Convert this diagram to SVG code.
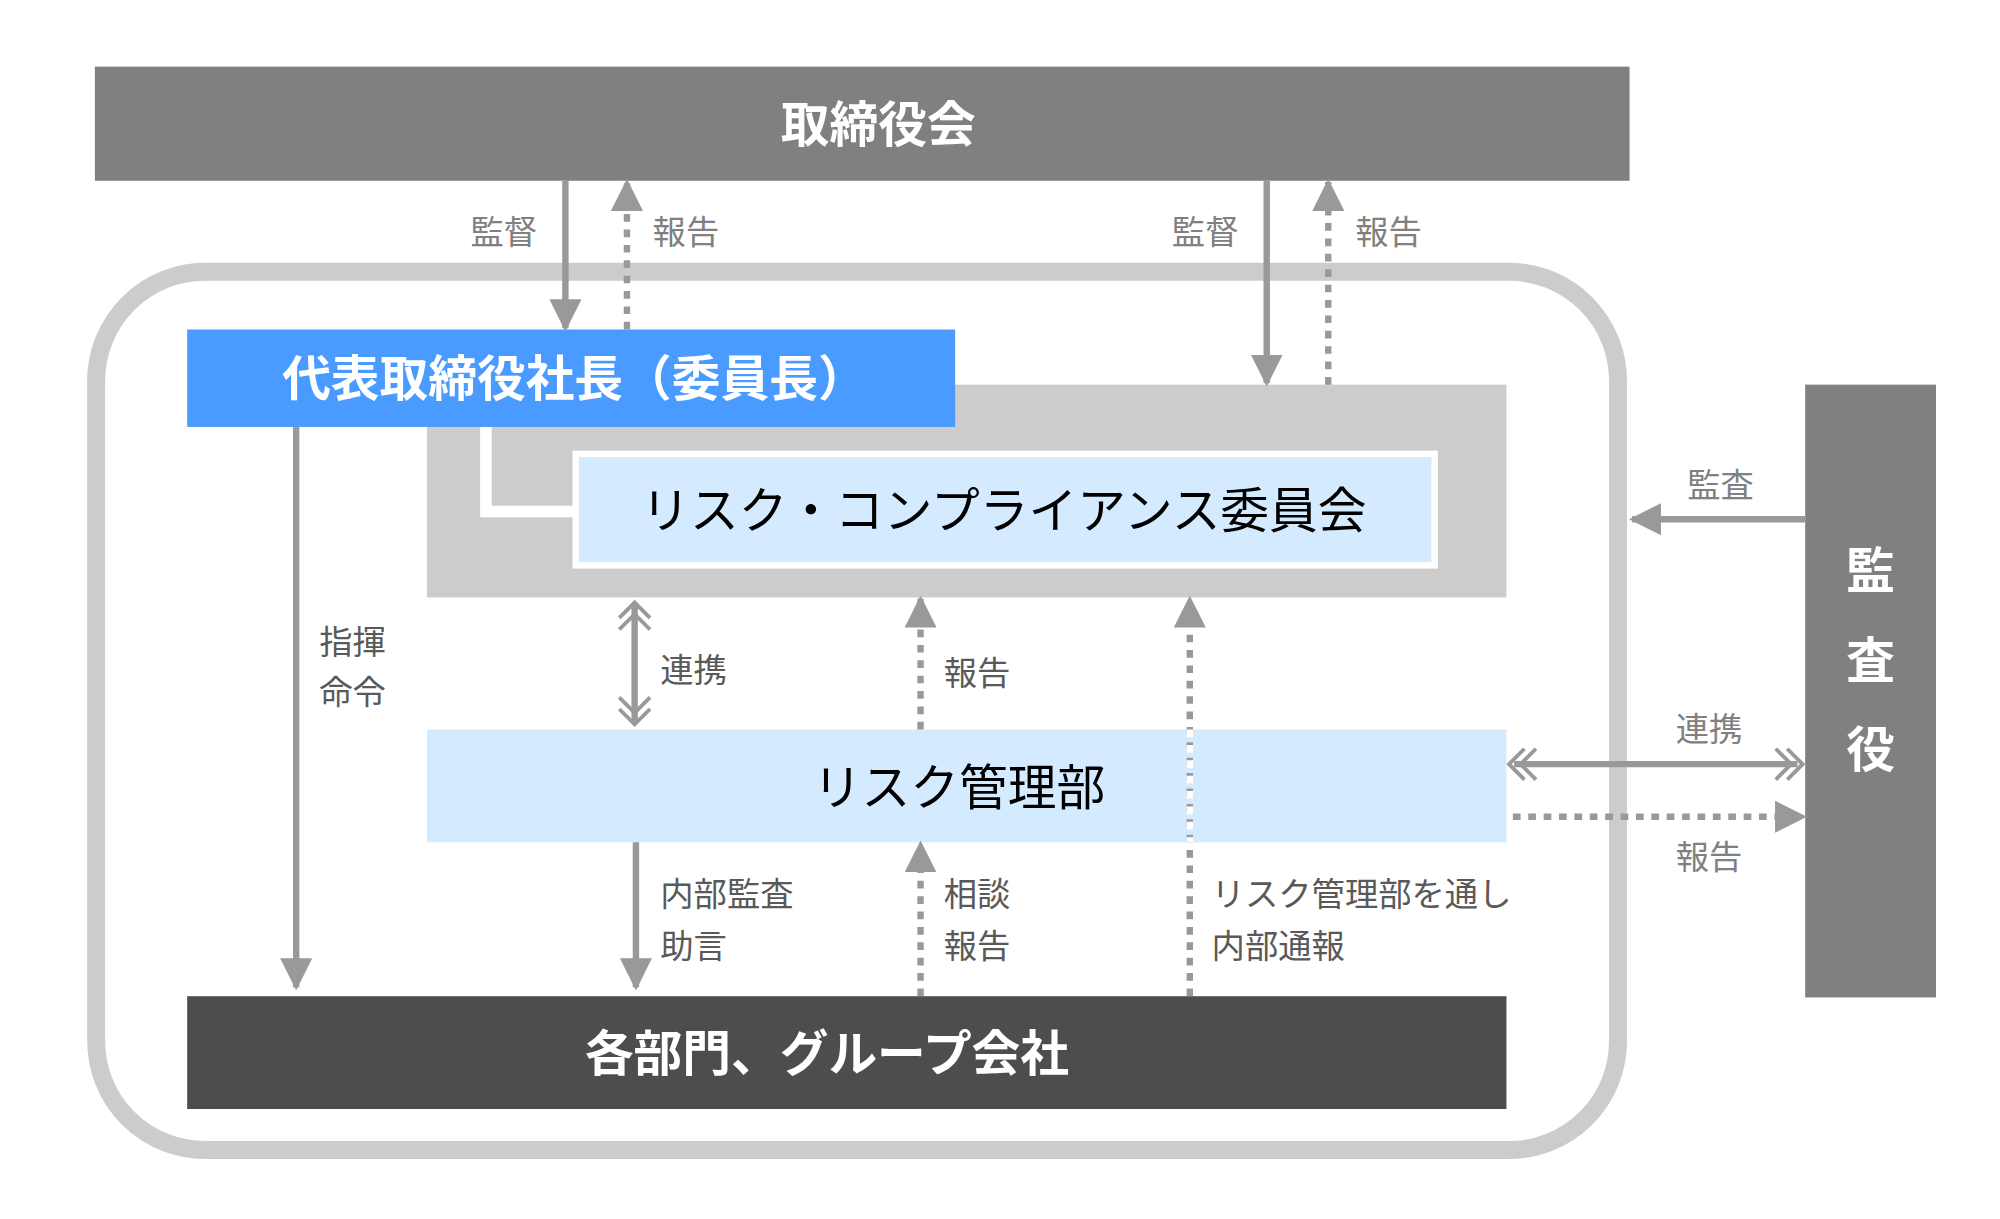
<svg xmlns="http://www.w3.org/2000/svg" width="2000" height="1219" viewBox="0 0 2000 1219">
<defs>
<style>
.lbl{font-family:"Noto Sans CJK JP","Noto Sans",sans-serif;font-size:26px;fill:#808080}
.ilbl{font-family:"Noto Sans CJK JP","Noto Sans",sans-serif;font-size:26px;fill:#595959}
.big{font-family:"Noto Sans CJK JP","Noto Sans",sans-serif;font-size:38px}
.s{stroke:#999;stroke-width:5;fill:none}
.d{stroke:#999;stroke-width:5;fill:none;stroke-dasharray:6 6}
.ch{stroke:#999;stroke-width:3;fill:none}
</style>
<marker id="ah" viewBox="0 0 10 10" refX="9" refY="5" markerWidth="5" markerHeight="5" markerUnits="strokeWidth" orient="auto"><path d="M0,0L10,5L0,10Z" fill="#999"/></marker>
</defs>
<rect width="2000" height="1219" fill="#fff"/>
<g transform="scale(1.2821)">
<rect x="75" y="212" width="1187" height="685" rx="85" fill="none" stroke="#ccc" stroke-width="14"/>
<g id="board"><rect x="74" y="52" width="1197" height="89" fill="#808080"/><text x="685" y="111" text-anchor="middle" class="big" font-weight="bold" fill="#fff">取締役会</text></g>
<g id="committee"><rect x="333" y="300" width="842" height="166" fill="#ccc"/>
<path d="M379,333V399H447" stroke="#fff" stroke-width="9" fill="none"/>
<rect x="449" y="354" width="670" height="87" fill="#d4ebff" stroke="#fff" stroke-width="5"/>
<text x="783" y="412" text-anchor="middle" class="big" fill="#000">リスク・コンプライアンス委員会</text></g>
<g id="president"><rect x="146" y="257" width="599" height="76" fill="#4a9bff"/><text x="448" y="309" text-anchor="middle" class="big" font-weight="bold" fill="#fff">代表取締役社長（委員長）</text></g>
<g id="riskdept"><rect x="333" y="569" width="842" height="88" fill="#d4ebff"/><text x="748" y="628" text-anchor="middle" class="big" fill="#000">リスク管理部</text></g>
<g id="depts"><rect x="146" y="777" width="1029" height="88" fill="#4d4d4d"/><text x="645" y="835" text-anchor="middle" class="big" font-weight="bold" fill="#fff">各部門、グループ会社</text></g>
<g id="auditor"><rect x="1408" y="300" width="102" height="478" fill="#808080"/>
<g class="big" font-weight="bold" fill="#fff" text-anchor="middle"><text x="1459" y="459">監</text><text x="1459" y="529">査</text><text x="1459" y="598">役</text></g></g>
<g id="connectors">
<line x1="441" y1="141" x2="441" y2="256" class="s" marker-end="url(#ah)"/>
<line x1="489" y1="257" x2="489" y2="142" class="d" marker-end="url(#ah)"/>
<line x1="988" y1="141" x2="988" y2="299" class="s" marker-end="url(#ah)"/>
<line x1="1036" y1="300" x2="1036" y2="142" class="d" marker-end="url(#ah)"/>
<line x1="231" y1="333" x2="231" y2="770" class="s" marker-end="url(#ah)"/>
<line x1="495" y1="472" x2="495" y2="563" class="s"/>
<path d="M483,482L495,470L507,482M483,491L495,479L507,491M483,553L495,565L507,553M483,544L495,556L507,544" class="ch"/>
<line x1="718" y1="569" x2="718" y2="467" class="d" marker-end="url(#ah)"/>
<line x1="928" y1="777" x2="928" y2="467" class="d" marker-end="url(#ah)"/>
<line x1="928" y1="569" x2="928" y2="657" stroke="#fff" stroke-width="5" stroke-dasharray="6 6"/>
<line x1="496" y1="657" x2="496" y2="770" class="s" marker-end="url(#ah)"/>
<line x1="718" y1="777" x2="718" y2="658" class="d" marker-end="url(#ah)"/>
<line x1="1408" y1="405" x2="1273" y2="405" class="s" marker-end="url(#ah)"/>
<line x1="1181" y1="596" x2="1402" y2="596" class="s"/>
<path d="M1189,584L1177,596L1189,608M1198,584L1186,596L1198,608M1394,584L1406,596L1394,608M1385,584L1397,596L1385,608" class="ch"/>
<line x1="1180" y1="637" x2="1407" y2="637" class="d" marker-end="url(#ah)"/>
</g>
<g id="labels">
<text x="393" y="190" text-anchor="middle" class="lbl">監督</text>
<text x="535" y="190" text-anchor="middle" class="lbl">報告</text>
<text x="940" y="190" text-anchor="middle" class="lbl">監督</text>
<text x="1083" y="190" text-anchor="middle" class="lbl">報告</text>
<text x="1342" y="388" text-anchor="middle" class="lbl">監査</text>
<text x="1333" y="578" text-anchor="middle" class="lbl">連携</text>
<text x="1333" y="678" text-anchor="middle" class="lbl">報告</text>
<text x="249" y="510" class="ilbl">指揮</text><text x="249" y="549" class="ilbl">命令</text>
<text x="515" y="532" class="ilbl">連携</text>
<text x="736" y="534" class="ilbl">報告</text>
<text x="515" y="707" class="ilbl">内部監査</text><text x="515" y="747" class="ilbl">助言</text>
<text x="736" y="707" class="ilbl">相談</text><text x="736" y="747" class="ilbl">報告</text>
<text x="945" y="707" class="ilbl">リスク管理部を通し</text><text x="945" y="747" class="ilbl">内部通報</text>
</g>
</g>
</svg>
